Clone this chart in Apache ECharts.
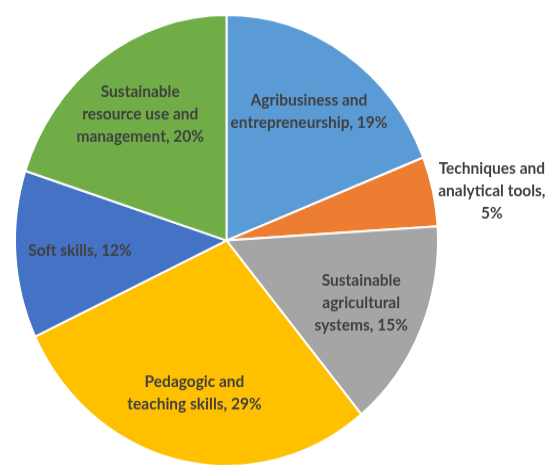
<!DOCTYPE html>
<html>
<head>
<meta charset="utf-8">
<script src="https://cdn.jsdelivr.net/npm/echarts@6/dist/echarts.min.js"></script>
<style>
  html, body { margin: 0; padding: 0; background: #ffffff; overflow: hidden; }
  #wrap { width: 550px; height: 468px; overflow: hidden; }
  #chart { width: 550px; height: 439px; transform: scaleY(1.0662); transform-origin: 0 0; }
</style>
</head>
<body>
<div id="wrap"><div id="chart"></div></div>
<script>
// Data
const categories = [
  'Agribusiness and entrepreneurship',
  'Techniques and analytical tools',
  'Sustainable agricultural systems',
  'Pedagogic and teaching skills',
  'Soft skills',
  'Sustainable resource use and management'
];
const shares = [19, 5, 15, 29, 12, 20];
const labelTemplates = [
  'Agribusiness and\nentrepreneurship, {p}%',
  'Techniques and\nanalytical tools,\n{p}%',
  'Sustainable\nagricultural\nsystems, {p}%',
  'Pedagogic and\nteaching skills, {p}%',
  'Soft skills, {p}%',
  'Sustainable\nresource use and\nmanagement, {p}%'
];
const colors = ['#5B9BD5', '#ED7D31', '#A5A5A5', '#FFC000', '#4472C4', '#70AD47'];
const outsideLabels = ['Techniques and analytical tools'];

const chart = echarts.init(document.getElementById('chart'), null, { renderer: 'canvas' });

const center = [226.5, 225.6];
const R = 211.5;
const labelFont = { fontFamily: 'Lato, "Open Sans", sans-serif', fontWeight: 'bold', fontSize: 15.5, color: '#404040', lineHeight: 21 };

const pieData = categories.map((c, i) => ({ name: c, value: shares[i], itemStyle: { color: colors[i] } }));
const labelData = categories.map((c, i) => {
  const outside = outsideLabels.indexOf(c) >= 0;
  return {
    name: c,
    value: shares[i],
    label: outside ? {
      position: 'outside',
      bleedMargin: 0,
      formatter: '{a|' + labelTemplates[i].replace('{p}', shares[i]).split('\n').join('}\n{a|') + '}',
      rich: { a: Object.assign({ width: 104, align: 'center' }, labelFont) }
    } : {
      position: 'inside',
      formatter: labelTemplates[i].replace('{p}', shares[i])
    },
    labelLine: { show: false, length: 2, length2: 0 }
  };
});

chart.setOption({
  animation: false,
  series: [
    {
      type: 'pie',
      center: center,
      radius: [0, R],
      startAngle: 90,
      clockwise: true,
      silent: true,
      label: { show: false },
      labelLine: { show: false },
      itemStyle: { borderColor: '#ffffff', borderWidth: 2 },
      data: pieData
    },
    {
      type: 'pie',
      center: center,
      radius: [76, R],
      startAngle: 90,
      clockwise: true,
      silent: true,
      avoidLabelOverlap: false,
      itemStyle: { color: 'rgba(0,0,0,0)', borderWidth: 0 },
      label: Object.assign({ show: true, distanceToLabelLine: 5, bleedMargin: 0 }, labelFont),
      labelLine: { show: false },
      data: labelData
    }
  ]
});
</script>
</body>
</html>
